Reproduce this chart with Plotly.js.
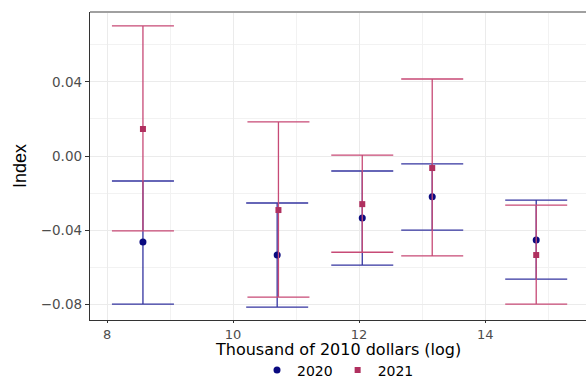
<!DOCTYPE html>
<html><head><meta charset="utf-8">
<script src="https://cdn.plot.ly/plotly-3.0.1.min.js"></script>
<style>html,body{margin:0;padding:0;background:#fff;}</style>
</head><body>
<div id="chart" style="width:586px;height:378px;"></div>
<script>
// Income (thousand of 2010 dollars, log) positions per group
const x2020 = [8.57, 10.70, 12.05, 13.16, 14.81];
const x2021 = [8.57, 10.72, 12.05, 13.16, 14.81];
// 2020 estimates and confidence bounds
const est2020 = [-0.0465, -0.0535, -0.0335, -0.0220, -0.0454];
const low2020 = [-0.0800, -0.0816, -0.0589, -0.0400, -0.0665];
const up2020  = [-0.0135, -0.0254, -0.0081, -0.0043, -0.0238];
// 2021 estimates and confidence bounds
const est2021 = [0.0146, -0.0292, -0.0260, -0.0065, -0.0535];
const low2021 = [-0.0405, -0.0762, -0.0520, -0.0540, -0.0800];
const up2021  = [0.0703, 0.0184, 0.0005, 0.0416, -0.0265];
const seriesNames = ['2020', '2021'];
const xTitle = 'Thousand of 2010 dollars (log)';

const plus = (u, e) => u.map((v, i) => v - e[i]);
const minus = (e, l) => e.map((v, i) => v - l[i]);

const traces = [
  {
    x: x2020, y: est2020, name: seriesNames[0], type: 'scatter', mode: 'markers',
    marker: {color: '#0a0a80', size: 7, symbol: 'circle'},
    error_y: {type: 'data', symmetric: false, array: plus(up2020, est2020), arrayminus: minus(est2020, low2020),
      color: '#3434a0', thickness: 1.3, width: 31}
  },
  {
    x: x2021, y: est2021, name: seriesNames[1], type: 'scatter', mode: 'markers',
    marker: {color: '#b0305f', size: 6, symbol: 'square'},
    error_y: {type: 'data', symmetric: false, array: plus(up2021, est2021), arrayminus: minus(est2021, low2021),
      color: '#c74a76', thickness: 1.3, width: 31}
  }
];

const tickFont = {family: 'DejaVu Sans', size: 13.5, color: '#4d4d4d'};
const layout = {
  width: 586, height: 378,
  margin: {l: 90, r: 0, t: 12, b: 58, autoexpand: false},
  paper_bgcolor: '#fff', plot_bgcolor: '#fff',
  showlegend: true,
  legend: {orientation: 'h', x: 0.5, xanchor: 'center', y: -0.164, yanchor: 'middle',
    font: {family: 'DejaVu Sans', size: 14, color: '#000'}},
  xaxis: {
    range: [7.73, 15.6], tickvals: [8, 10, 12, 14], ticktext: ['8', '10', '12', '14'],
    showgrid: true, gridcolor: '#ebebeb', gridwidth: 1,
    minor: {tickvals: [9, 11, 13, 15], showgrid: true, gridcolor: '#f2f2f2', gridwidth: 1},
    zeroline: false, showline: true, linecolor: '#333', linewidth: 1.2,
    ticks: 'outside', ticklen: 2, tickcolor: '#333',
    tickfont: {family: 'DejaVu Sans', size: 13, color: '#4d4d4d'}
  },
  yaxis: {
    range: [-0.0886, 0.0778], tickvals: [-0.08, -0.04, 0, 0.04], ticktext: ['\u22120.08', '\u22120.04', '0.00', '0.04'],
    showgrid: true, gridcolor: '#ebebeb', gridwidth: 1,
    minor: {tickvals: [-0.06, -0.02, 0.02, 0.06], showgrid: true, gridcolor: '#f2f2f2', gridwidth: 1},
    zeroline: false, showline: true, linecolor: '#333', linewidth: 1.2,
    ticks: 'outside', ticklen: 4, tickcolor: '#333', tickfont: tickFont,
    title: {text: 'Index', font: {family: 'Liberation Sans', size: 18, color: '#000'}, standoff: 9}
  },
  annotations: [
    {text: xTitle, xref: 'paper', yref: 'paper', x: 0.5, y: -0.097, xanchor: 'center', yanchor: 'middle',
     showarrow: false, font: {family: 'DejaVu Sans', size: 16, color: '#000'}}
  ],
  shapes: [
    {type: 'line', xref: 'paper', yref: 'paper', x0: 0, x1: 1, y0: 1, y1: 1, line: {color: '#a0a0a0', width: 2}}
  ]
};

Plotly.newPlot('chart', traces, layout, {displayModeBar: false, staticPlot: true});
</script>
</body></html>
